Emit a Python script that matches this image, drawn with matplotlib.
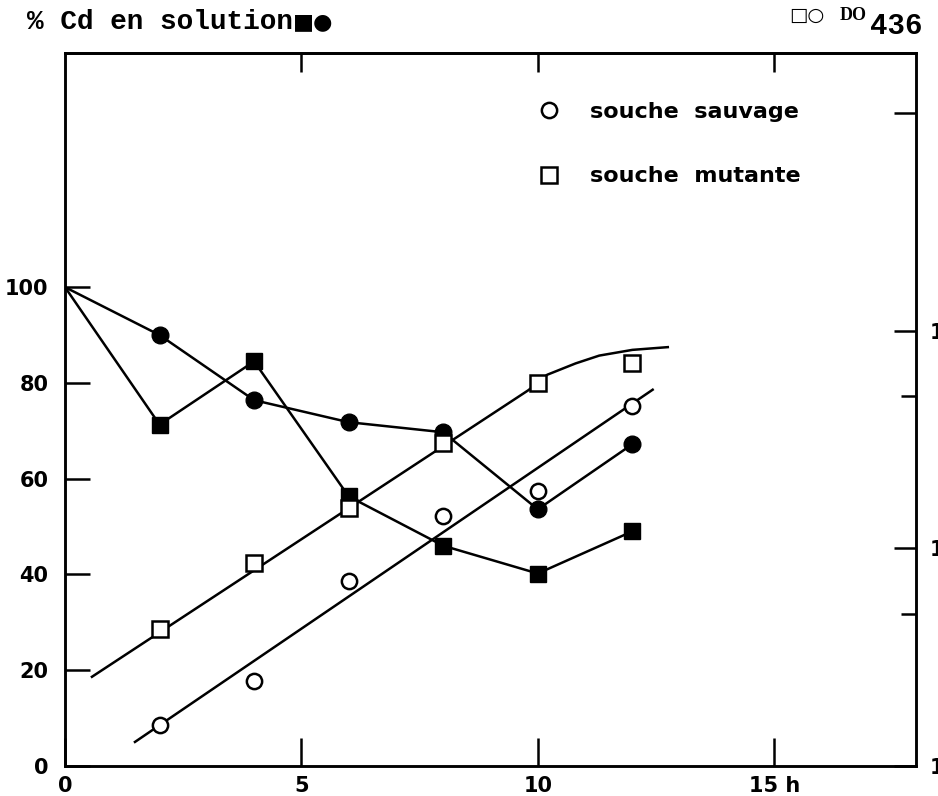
import matplotlib
matplotlib.use("Agg")
import matplotlib.pyplot as plt
import numpy as np

# time (h)
t = [2, 4, 6, 8, 10, 12]
t_cd = [0] + t

# % Cd in solution (filled markers)
cd_sauvage = [100, 90.0, 76.4, 71.8, 69.7, 53.6, 67.2]
cd_mutante = [100, 71.3, 84.5, 56.3, 46.0, 40.2, 49.0]

# DO436 (open markers, log scale)
do_sauvage = [0.0155, 0.0247, 0.0705, 0.141, 0.183, 0.451]
do_mutante = [0.0425, 0.0855, 0.153, 0.305, 0.575, 0.713]

# hand-drawn growth curves
fit_sauvage_t = [1.48, 12.43]
fit_sauvage_do = [0.0129, 0.536]
fit_mutante_t = [0.57, 9.8, 10.2, 10.8, 11.3, 12.0, 12.75]
fit_mutante_do = [0.0257, 0.533, 0.628, 0.708, 0.769, 0.817, 0.841]

xticks = [0, 5, 10, 15]
xticklabels = ["0", "5", "10", "15 h"]
yticks = [0, 20, 40, 60, 80, 100]
rticks = [0.01, 0.1, 1, 10]
rticklabels = ["10\u207b\u00b2", "10\u207b\u00b9", "1", ""]

W, H = 938, 796
fig = plt.figure(figsize=(W / 100, H / 100), dpi=100)
ax = fig.add_axes([65 / W, 1 - 766 / H, (916 - 65) / W, (766 - 53) / H])
ax2 = ax.twinx()

lw = 1.8
tickfont = {"family": ["DejaVu Sans"], "weight": "bold", "size": 15}

ax.plot(t_cd, cd_sauvage, color="black", lw=lw, marker="o", ms=12,
        markevery=list(range(1, len(t_cd))), zorder=3)
ax.plot(t_cd, cd_mutante, color="black", lw=lw, marker="s", ms=12,
        markevery=list(range(1, len(t_cd))), zorder=3)

ax2.plot(fit_sauvage_t, fit_sauvage_do, color="black", lw=lw, zorder=2)
ax2.plot(fit_mutante_t, fit_mutante_do, color="black", lw=lw, zorder=2)
ax2.plot(t, do_sauvage, ls="none", marker="o", ms=11, mfc="white",
         mec="black", mew=1.8, zorder=4, label="souche  sauvage")
ax2.plot(t, do_mutante, ls="none", marker="s", ms=11, mfc="white",
         mec="black", mew=1.8, zorder=4, label="souche  mutante")

ax.set_xlim(0, 18)
ax.set_ylim(0, 148.9)
ax2.set_yscale("log")
ax2.set_ylim(0.01, 18.9)

ax.set_xticks(xticks)
ax.set_xticklabels(xticklabels, fontdict=tickfont)
ax.set_yticks(yticks)
ax.set_yticklabels([str(v) for v in yticks], fontdict=tickfont)
ax.tick_params(axis="x", direction="in", length=20, width=1.8, pad=7,
               bottom=True, top=False)
ax.tick_params(axis="y", direction="in", length=18, width=1.8, pad=12)

top = ax.secondary_xaxis("top")
top.set_xticks([5, 10, 15])
top.tick_params(direction="in", length=14, width=1.8, labeltop=False)

ax2.set_yticks(rticks)
ax2.set_yticklabels(rticklabels, fontdict=tickfont)
ax2.set_yticks([0.05, 0.5], minor=True)
ax2.yaxis.set_minor_formatter(plt.NullFormatter())
ax2.tick_params(axis="y", which="major", direction="in", length=16,
                width=1.8, pad=10)
ax2.tick_params(axis="y", which="minor", direction="in", length=11,
                width=1.8)

for a in (ax, ax2):
    for s in a.spines.values():
        s.set_linewidth(1.8)
top.spines["top"].set_linewidth(1.8)

ax2.legend(loc="upper left", bbox_to_anchor=(538 / W, 1 - 102 / H),
           bbox_transform=fig.transFigure, frameon=False,
           prop={"family": ["DejaVu Sans"], "weight": "bold", "size": 16},
           handlelength=1.0, handletextpad=1.34, labelspacing=2.0,
           borderaxespad=0, borderpad=0)

fig.text(27 / W, 1 - 22 / H, "% Cd en solution",
         family=["Liberation Mono", "DejaVu Sans"], weight="bold",
         size=20, va="center", ha="left")
fig.text(293 / W, 1 - 22 / H, "\u25a0\u25cf",
         family=["DejaVu Sans"], size=16, va="center", ha="left")
fig.text(789 / W, 1 - 15 / H, "\u25a1\u25cb",
         family=["DejaVu Sans"], size=14, va="center", ha="left")
fig.text(840 / W, 1 - 15 / H, "DO", family=["Liberation Serif"],
         weight="bold", size=13, va="center", ha="left")
fig.text(870 / W, 1 - 26 / H, "436", family=["Liberation Mono"],
         weight="bold", size=21, va="center", ha="left")

fig.savefig("out.png", dpi=100)
